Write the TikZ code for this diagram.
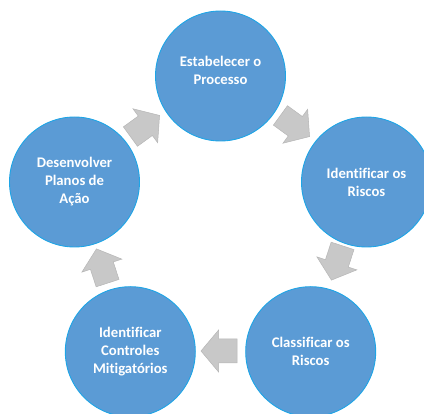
\documentclass[tikz,border=0pt]{standalone}
\usepackage{fontspec}
\setmainfont{Carlito}[Ligatures=NoCommon]
\definecolor{nodefill}{RGB}{91,155,213}
\definecolor{nodeline}{RGB}{30,165,230}
\definecolor{arrowfill}{RGB}{200,200,200}
\definecolor{arrowline}{RGB}{182,182,182}
\tikzset{
  stage/.style={circle, fill=nodefill, draw=nodeline, line width=0.9pt,
    minimum size=130pt, inner sep=0pt, text=white, align=center,
    font=\bfseries\fontsize{14.7}{18}\selectfont},
  blockarrow/.style={fill=arrowfill, draw=arrowline, line width=0.5pt, line join=miter}
}
\newcommand{\cyclearrow}[3]{%
  \begin{scope}[shift={(#2)}, rotate=#3]
    \draw[blockarrow] (-18,-12) -- (0.4,-12) -- (0.4,-21) -- (18,0) -- (0.4,21) -- (0.4,12) -- (-18,12) -- cycle;
    \coordinate (#1) at (0,0);
  \end{scope}}
\begin{document}
\begin{tikzpicture}[x=1pt,y=-1pt]
\useasboundingbox (0,0) rectangle (424,414);
\begin{scope}
\clip (0,0) rectangle (424,414);
% circles (regular pentagon, centre (220.5,229.5), R=153.5)
\node[stage] (estab) at (220.5,76) {\raisebox{0pt}[\height][\dimexpr\depth+8pt\relax]{\begin{tabular}{@{}c@{}}Estabelecer o\\Processo\end{tabular}}};
\node[stage] (ident) at (366.5,182) {Identificar os\\Riscos};
\node[stage] (class) at (310.7,351.7) {Classificar os\\Riscos};
\node[stage] (contr) at (130.3,351.7) {Identificar\\Controles\\Mitigatórios};
\node[stage] (desen) at (74.5,182) {Desenvolver\\Planos de\\Ação};
% block arrows
\cyclearrow{a1}{145,126}{36}
\cyclearrow{a2}{295,126}{-36}
\cyclearrow{a3}{337,263}{-108}
\cyclearrow{a4}{219,351}{180}
\cyclearrow{a5}{102,266}{108}
\end{scope}
\end{tikzpicture}
\end{document}
